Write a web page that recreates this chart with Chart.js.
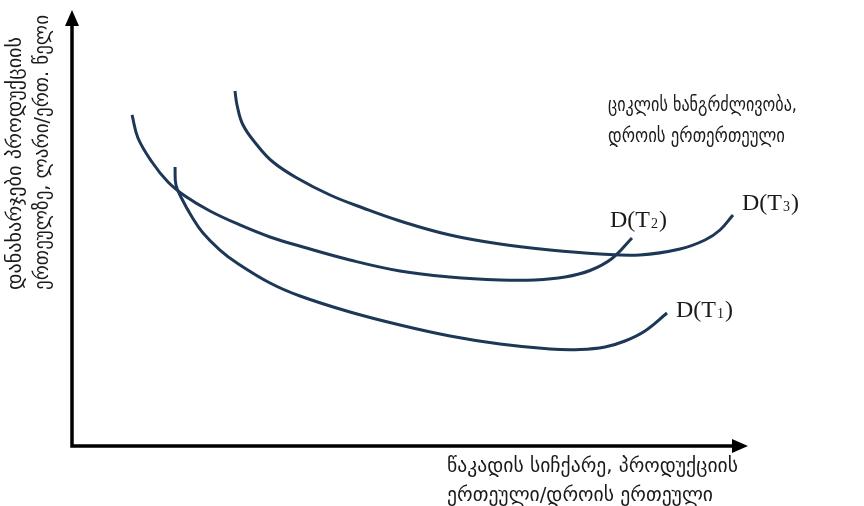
<!DOCTYPE html>
<html>
<head>
<meta charset="utf-8">
<script src="https://cdn.jsdelivr.net/npm/chart.js@4"></script>
<style>
  html, body { margin: 0; padding: 0; background: #fff; }
  #wrap { width: 864px; height: 506px; }
</style>
</head>
<body>
<div id="wrap"><canvas id="costChart" width="864" height="506"></canvas></div>
<script>
// cost curves, x = flow rate, y = cost per unit (relative units 0..100)
const t1X = [15.24, 15.38, 16.27, 17.75, 19.38, 21.89, 24.41, 29.29, 33.73, 41.12, 48.52, 55.92, 63.31, 70.71, 75.15, 78.85, 81.80, 84.76, 88.02];
const t1Y = [63.99, 59.86, 56.65, 52.52, 48.85, 44.95, 41.97, 37.39, 34.40, 30.73, 27.75, 25.23, 23.39, 22.25, 22.13, 22.71, 24.08, 26.38, 30.50];

const t2X = [8.88, 9.76, 11.83, 14.20, 16.72, 20.41, 24.85, 29.29, 34.17, 41.12, 48.52, 55.92, 63.31, 68.49, 72.93, 76.63, 79.88, 82.84];
const t2Y = [75.92, 70.64, 65.14, 60.55, 57.34, 53.90, 50.69, 47.94, 45.64, 42.66, 40.14, 38.76, 38.07, 38.07, 38.76, 40.25, 43.00, 47.71];

const t3X = [24.11, 24.41, 25.30, 27.37, 29.73, 33.28, 38.17, 43.05, 48.52, 55.92, 63.31, 70.71, 78.11, 84.02, 89.94, 93.64, 95.86, 97.78];
const t3Y = [81.42, 78.21, 73.62, 69.04, 65.14, 61.47, 57.57, 54.59, 51.61, 48.39, 46.33, 44.95, 44.04, 43.81, 45.18, 47.25, 49.54, 52.98];

const curveNames = ['1', '2', '3'];

const yTitle = ['დანახარჯები პროდუქციის', 'ერთეულზე, ლარი/ერთ. წელი'];
const xTitle = ['წაკადის სიჩქარე, პროდუქციის', 'ერთეული/დროის ერთეული'];
const paramTitle = ['ციკლის ხანგრძლივობა,', 'დროის ერთერთეული'];

const lineColor = '#1d3756';
const geoFont = '19px "DejaVu Sans", sans-serif';
const serifFont = '"Liberation Serif", "DejaVu Serif", serif';

function toPoints(xs, ys) {
    return xs.map((x, i) => ({ x: x, y: ys[i] }));
}

// write a line squeezed to a given width
function fitText(ctx, text, x, y, width) {
    const w = ctx.measureText(text).width;
    ctx.save();
    ctx.translate(x, y);
    ctx.scale(width / w, 1);
    ctx.fillText(text, 0, 0);
    ctx.restore();
}

// label offsets from the last point of each curve
const labelOffsets = [[9, 4], [-22, -11], [9, -5]];

const annotate = {
    id: 'annotate',
    afterDraw(chart) {
        const ctx = chart.ctx;
        const a = chart.chartArea;
        ctx.save();

        // axes with arrow heads
        ctx.strokeStyle = '#000';
        ctx.fillStyle = '#000';
        ctx.lineWidth = 3.5;
        ctx.beginPath();
        ctx.moveTo(a.left, a.top + 12);
        ctx.lineTo(a.left, a.bottom);
        ctx.lineTo(a.right - 12, a.bottom);
        ctx.stroke();
        ctx.beginPath();
        ctx.moveTo(a.left, a.top);
        ctx.lineTo(a.left - 7, a.top + 16);
        ctx.lineTo(a.left + 7, a.top + 16);
        ctx.closePath();
        ctx.fill();
        ctx.beginPath();
        ctx.moveTo(a.right, a.bottom);
        ctx.lineTo(a.right - 16, a.bottom - 7);
        ctx.lineTo(a.right - 16, a.bottom + 7);
        ctx.closePath();
        ctx.fill();

        // D(T) labels next to the curve ends
        ctx.fillStyle = '#1a1a1a';
        ctx.textBaseline = 'alphabetic';
        ctx.textAlign = 'left';
        chart.data.datasets.forEach((ds, i) => {
            const meta = chart.getDatasetMeta(i);
            const last = meta.data[meta.data.length - 1];
            let x = last.x + labelOffsets[i][0];
            const y = last.y + labelOffsets[i][1];
            ctx.font = '24px ' + serifFont;
            ctx.fillText('D(T', x, y);
            x += ctx.measureText('D(T').width;
            ctx.font = '14px ' + serifFont;
            ctx.fillText(curveNames[i], x + 1, y + 1);
            x += ctx.measureText(curveNames[i]).width + 2;
            ctx.font = '24px ' + serifFont;
            ctx.fillText(')', x, y);
        });

        // georgian titles
        ctx.fillStyle = '#1a1a1a';
        ctx.textBaseline = 'middle';
        ctx.font = geoFont;
        fitText(ctx, paramTitle[0], 608, 106, 189);
        fitText(ctx, paramTitle[1], 608, 137, 177);

        fitText(ctx, xTitle[0], 447, 467, 291);
        fitText(ctx, xTitle[1], 447, 496, 266);

        ctx.save();
        ctx.translate(16, 290);
        ctx.rotate(-Math.PI / 2);
        fitText(ctx, yTitle[0], 0, 0, 253);
        fitText(ctx, yTitle[1], 0, 27, 275);
        ctx.restore();

        ctx.restore();
    }
};

new Chart(document.getElementById('costChart'), {
    type: 'scatter',
    data: {
        datasets: [
            { label: 'D(T1)', data: toPoints(t1X, t1Y) },
            { label: 'D(T2)', data: toPoints(t2X, t2Y) },
            { label: 'D(T3)', data: toPoints(t3X, t3Y) }
        ].map(ds => Object.assign(ds, {
            showLine: true,
            borderColor: lineColor,
            borderWidth: 3,
            pointRadius: 0,
            pointHoverRadius: 0,
            tension: 0.4,
            clip: false
        }))
    },
    options: {
        responsive: false,
        animation: false,
        layout: { padding: { left: 72, right: 116, top: 10, bottom: 60 } },
        plugins: { legend: { display: false }, tooltip: { enabled: false } },
        scales: {
            x: { type: 'linear', min: 0, max: 100, display: false },
            y: { type: 'linear', min: 0, max: 100, display: false }
        }
    },
    plugins: [annotate]
});
</script>
</body>
</html>
